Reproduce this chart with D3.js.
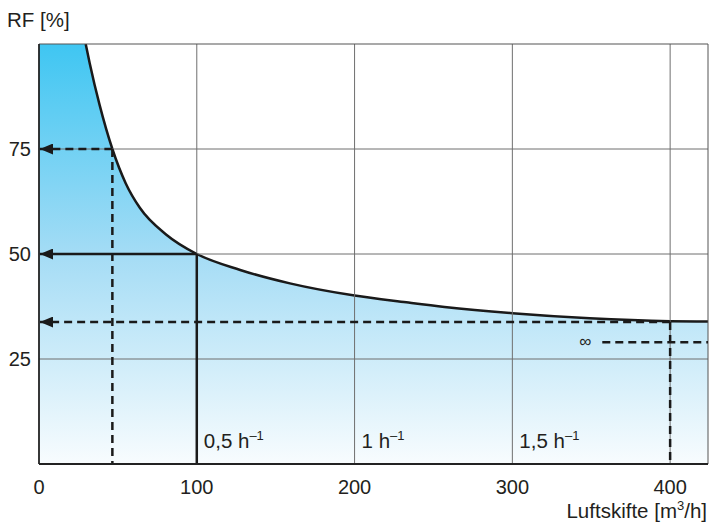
<!DOCTYPE html>
<html>
<head>
<meta charset="utf-8">
<script src="https://cdn.jsdelivr.net/npm/d3@7"></script>
<style>
  body { margin: 0; background: #fff; }
  text { font-family: "Liberation Sans", Arial, sans-serif; fill: #231f20; }
</style>
</head>
<body>
<div id="chart"></div>
<script>
// ===== data =====
const curveX = [29.6, 32.1, 38.4, 46.5, 55, 63.9, 80.7, 100, 127.5, 159, 200, 232.8, 257, 300, 349, 400, 424];
const curveRF = [100, 95.5, 85.5, 75, 66.8, 61.0, 54.6, 50, 46.2, 43.0, 40.1, 38.5, 37.4, 35.9, 34.7, 34.0, 33.9];

const xTicks = [0, 100, 200, 300, 400];
const yTicks = [25, 50, 75];

// guide lines: from the curve back to the RF axis and down to the x axis
const guideX = [46.5, 100, 400];
const guideRF = [75, 50, 33.8];
const guideDashed = [true, false, true];

const infRF = 29;
const infX0 = 357;

const rateLabels = ['0,5', '1', '1,5'];
const rateX = [100, 200, 300];

//=====================plot size=========================
var W = 709, H = 525;
var margin = {top: 44, left: 39, right: 1, bottom: 61};
var width = W - margin.left - margin.right;
var height = H - margin.top - margin.bottom;

var svg = d3.select('#chart')
  .append('svg')
  .attr('width', W)
  .attr('height', H);

var defs = svg.append('defs');
var grad = defs.append('linearGradient')
  .attr('id', 'fillGrad')
  .attr('x1', 0).attr('y1', 0).attr('x2', 0).attr('y2', 1);
grad.append('stop').attr('offset', '0%').attr('stop-color', '#3fc6f2');
grad.append('stop').attr('offset', '50%').attr('stop-color', '#a4dcf5');
grad.append('stop').attr('offset', '100%').attr('stop-color', '#f8fcfe');

defs.append('clipPath').attr('id', 'plotClip')
  .append('rect').attr('width', width).attr('height', height);

// arrow head, drawn pointing along the line; lines run right-to-left
defs.append('marker')
  .attr('id', 'arrow')
  .attr('viewBox', '0 0 13 11')
  .attr('refX', 13).attr('refY', 5.5)
  .attr('markerWidth', 13).attr('markerHeight', 11)
  .attr('markerUnits', 'userSpaceOnUse')
  .attr('orient', 'auto')
  .append('path')
  .attr('d', 'M0,0 L13,5.5 L0,11 Z')
  .style('fill', '#1a1a1a');

var g = svg.append('g')
  .attr('transform', 'translate(' + margin.left + ',' + margin.top + ')');

var x = d3.scaleLinear().domain([0, 424]).range([0, width]);
var y = d3.scaleLinear().domain([0, 100]).range([height, 0]);

var pts = curveX.map((d, i) => [d, curveRF[i]]);

var line = d3.line()
  .x(d => x(d[0]))
  .y(d => y(d[1]))
  .curve(d3.curveMonotoneX);

var plot = g.append('g').attr('clip-path', 'url(#plotClip)');

// filled region left of / below the curve
var areaPath = 'M' + x(0) + ',' + y(0) + 'L' + x(0) + ',' + y(100) + 'L' + x(curveX[0]) + ',' + y(100)
  + line(pts).replace(/^M/, 'L')
  + 'L' + x(424) + ',' + y(0) + 'Z';
plot.append('path')
  .attr('d', areaPath)
  .style('fill', 'url(#fillGrad)');

// grid
g.append('g')
  .selectAll('line.vg')
  .data(xTicks.slice(1))
  .enter()
  .append('line')
  .attr('x1', d => x(d)).attr('x2', d => x(d))
  .attr('y1', 0).attr('y2', height)
  .style('stroke', '#6e6e6e').style('stroke-width', 1);
g.append('g')
  .selectAll('line.hg')
  .data(yTicks)
  .enter()
  .append('line')
  .attr('x1', 0).attr('x2', width)
  .attr('y1', d => y(d)).attr('y2', d => y(d))
  .style('stroke', '#6e6e6e').style('stroke-width', 1);

// frame
g.append('line').attr('x1', 0).attr('x2', width).attr('y1', 0).attr('y2', 0)
  .style('stroke', '#555').style('stroke-width', 1.2);
g.append('line').attr('x1', width).attr('x2', width).attr('y1', 0).attr('y2', height)
  .style('stroke', '#555').style('stroke-width', 1);

// guide lines
guideX.forEach((gx, i) => {
  var dash = guideDashed[i] ? '8,5' : null;
  g.append('line')
    .attr('x1', x(gx)).attr('x2', x(0) + 1)
    .attr('y1', y(guideRF[i])).attr('y2', y(guideRF[i]))
    .attr('marker-end', 'url(#arrow)')
    .style('stroke', '#1a1a1a').style('stroke-width', 2.5)
    .style('stroke-dasharray', dash);
  g.append('line')
    .attr('x1', x(gx)).attr('x2', x(gx))
    .attr('y1', y(guideRF[i])).attr('y2', y(0))
    .style('stroke', '#1a1a1a').style('stroke-width', 2.5)
    .style('stroke-dasharray', dash);
});

// infinity line
g.append('line')
  .attr('x1', x(infX0)).attr('x2', width)
  .attr('y1', y(infRF)).attr('y2', y(infRF))
  .style('stroke', '#1a1a1a').style('stroke-width', 2.5)
  .style('stroke-dasharray', '8,5');
g.append('text')
  .attr('x', x(infX0) - 11).attr('y', y(infRF) + 5)
  .attr('text-anchor', 'end')
  .style('font-size', '17px')
  .text('\u221e');

// curve
plot.append('path')
  .attr('d', line(pts))
  .style('fill', 'none')
  .style('stroke', '#1a1a1a')
  .style('stroke-width', 2.5);

// axes lines
g.append('line').attr('x1', 0).attr('x2', 0).attr('y1', 0).attr('y2', height)
  .style('stroke', '#222').style('stroke-width', 1.8);
g.append('line').attr('x1', 0).attr('x2', width).attr('y1', height).attr('y2', height)
  .style('stroke', '#222').style('stroke-width', 1.8);

// tick labels
g.selectAll('text.xt')
  .data(xTicks)
  .enter()
  .append('text')
  .attr('x', d => x(d)).attr('y', height + 30)
  .attr('text-anchor', 'middle')
  .style('font-size', '20px')
  .text(d => d);
g.selectAll('text.yt')
  .data(yTicks)
  .enter()
  .append('text')
  .attr('x', -8).attr('y', d => y(d) + 7)
  .attr('text-anchor', 'end')
  .style('font-size', '20px')
  .text(d => d);

// air change rate labels
rateX.forEach((rx, i) => {
  var t = g.append('text')
    .attr('x', x(rx) + 7).attr('y', height - 16)
    .style('font-size', '20.5px');
  t.append('tspan').text(rateLabels[i] + ' h');
  t.append('tspan').attr('dy', -8).style('font-size', '13px').text('\u2013' + '1');
});

// axis titles
svg.append('text')
  .attr('x', 7).attr('y', 27)
  .style('font-size', '20.5px')
  .text('RF [%]');
var xt = svg.append('text')
  .attr('x', 707).attr('y', 518)
  .attr('text-anchor', 'end')
  .style('font-size', '20.5px');
xt.append('tspan').text('Luftskifte [m');
xt.append('tspan').attr('dy', -8).style('font-size', '13px').text('3');
xt.append('tspan').attr('dy', 8).text('/h]');
</script>
</body>
</html>
